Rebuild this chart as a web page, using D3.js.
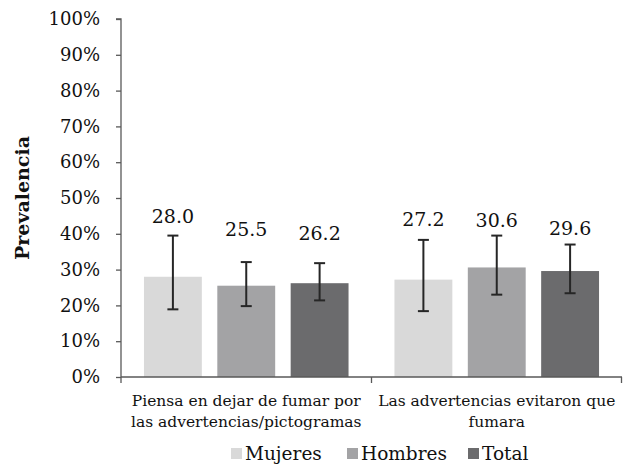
<!DOCTYPE html>
<html><head><meta charset="utf-8">
<script src="https://cdn.jsdelivr.net/npm/d3@7"></script>
<style>body{margin:0;background:#fff}svg{display:block}</style>
</head><body>
<script>
const categories = [["Piensa en dejar de fumar por","las advertencias/pictogramas"],["Las advertencias evitaron que","fumara"]];
const series = ["Mujeres","Hombres","Total"];
const colors = ["#d9d9d9","#a3a3a5","#6b6b6d"];
const values = [[28.0,25.5,26.2],[27.2,30.6,29.6]];
const errLow = [[18.9,19.8,21.4],[18.4,23.0,23.4]];
const errHigh = [[39.5,32.1,31.8],[38.3,39.5,37.0]];
const labelAt = [[42.9,39.4,38.3],[42.2,41.8,39.7]];
const yTicks = [0,10,20,30,40,50,60,70,80,90,100];

(function(){
const W=623,H=466, pL=121, pR=622, pT=19, pB=377;
const font = "'DejaVu Serif', serif";
const svg = d3.select("body").append("svg").attr("width",W).attr("height",H)
  .style("font-family",font);

const y = d3.scaleLinear().domain([0,100]).range([pB,pT]);
const x0 = d3.scaleBand().domain(d3.range(categories.length)).range([pL,pR]).paddingInner(0).paddingOuter(0);
const x1 = d3.scaleBand().domain(series).range([0,x0.bandwidth()]).paddingInner(0.211).paddingOuter(0.313);

// y axis
const ya = svg.append("g").attr("transform",`translate(${pL},0)`)
  .call(d3.axisLeft(y).tickValues(yTicks).tickFormat(d=>d+"%").tickSize(5).tickPadding(16));
ya.select(".domain").attr("stroke","#595959").attr("stroke-width",1.3).attr("d",`M-5,${pT}H0V${pB}`);
ya.selectAll(".tick line").attr("stroke","#595959").attr("stroke-width",1.3);
ya.selectAll("text").attr("font-size",18).attr("font-family",font).attr("fill","#111");

// y title
svg.append("text").attr("transform",`translate(29,198) rotate(-90)`).attr("text-anchor","middle")
  .attr("font-size",19).attr("font-weight","bold").attr("fill","#111").text("Prevalencia");

// bars
const g = svg.selectAll(".grp").data(values).join("g").attr("transform",(d,i)=>`translate(${x0(i)},0)`);
g.selectAll("rect").data(d=>d).join("rect")
  .attr("x",(d,j)=>x1(series[j])).attr("width",x1.bandwidth())
  .attr("y",d=>y(d)).attr("height",d=>y(0)-y(d))
  .attr("fill",(d,j)=>colors[j]);

// error bars
g.each(function(d,i){
  const gg=d3.select(this);
  series.forEach((s,j)=>{
    const cx = x1(s)+x1.bandwidth()/2;
    const lo=y(errLow[i][j]), hi=y(errHigh[i][j]);
    gg.append("line").attr("x1",cx).attr("x2",cx).attr("y1",lo).attr("y2",hi).attr("stroke","#262626").attr("stroke-width",2);
    [lo,hi].forEach(v=>gg.append("line").attr("x1",cx-5.5).attr("x2",cx+5.5).attr("y1",v).attr("y2",v).attr("stroke","#262626").attr("stroke-width",2));
    gg.append("text").attr("x",cx).attr("y",y(labelAt[i][j])).attr("text-anchor","middle")
      .attr("font-size",19).attr("fill","#111").text(d3.format(".1f")(values[i][j]));
  });
});

// x axis
svg.append("line").attr("x1",pL).attr("x2",pR).attr("y1",pB).attr("y2",pB).attr("stroke","#595959").attr("stroke-width",1.3);
[0,1,2].forEach(k=>{
  const xx = k<2 ? x0(k) : pR-0.5;
  svg.append("line").attr("x1",xx).attr("x2",xx).attr("y1",pB).attr("y2",pB+6).attr("stroke","#595959").attr("stroke-width",1.3);
});
categories.forEach((lines,i)=>{
  const t = svg.append("text").attr("text-anchor","middle").attr("font-size",15.5).attr("fill","#111");
  lines.forEach((l,k)=>t.append("tspan").attr("x",x0(i)+x0.bandwidth()/2).attr("y",406+k*20.5).text(l));
});

// legend
const legX=[231,347,468];
series.forEach((s,j)=>{
  svg.append("rect").attr("x",legX[j]).attr("y",448).attr("width",11).attr("height",11).attr("fill",colors[j]);
  svg.append("text").attr("x",legX[j]+14).attr("y",460).attr("font-size",18.5).attr("fill","#111").text(s);
});
})();
</script>
</body></html>
